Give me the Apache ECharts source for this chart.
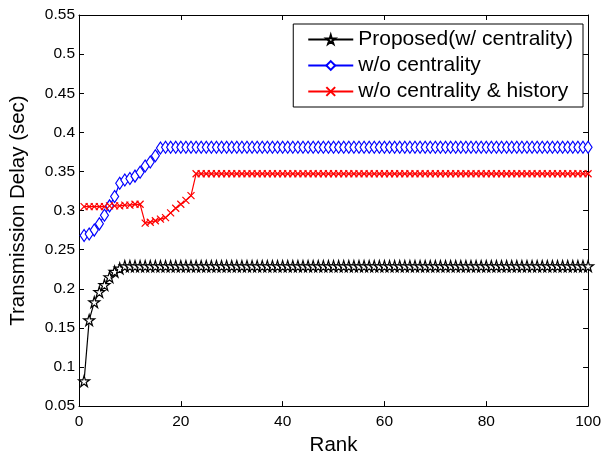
<!DOCTYPE html>
<html><head><meta charset="utf-8">
<script src="https://cdn.jsdelivr.net/npm/echarts@6/dist/echarts.min.js"></script>
<style>html,body{margin:0;padding:0;background:#fff}#c{width:604px;height:461px}</style>
</head><body><div id="c"></div>
<script>
var seriesNames = ['Proposed(w/ centrality)', 'w/o centrality', 'w/o centrality & history'];
var xTicks = [0, 20, 40, 60, 80, 100];
var yTicks = [0.05, 0.1, 0.15, 0.2, 0.25, 0.3, 0.35, 0.4, 0.45, 0.5, 0.55];
var proposed = [
0.082,0.160,0.183,0.196,0.205,0.215,0.222,0.226,0.229,0.229,
0.229,0.229,0.229,0.229,0.229,0.229,0.229,0.229,0.229,0.229,
0.229,0.229,0.229,0.229,0.229,0.229,0.229,0.229,0.229,0.229,
0.229,0.229,0.229,0.229,0.229,0.229,0.229,0.229,0.229,0.229,
0.229,0.229,0.229,0.229,0.229,0.229,0.229,0.229,0.229,0.229,
0.229,0.229,0.229,0.229,0.229,0.229,0.229,0.229,0.229,0.229,
0.229,0.229,0.229,0.229,0.229,0.229,0.229,0.229,0.229,0.229,
0.229,0.229,0.229,0.229,0.229,0.229,0.229,0.229,0.229,0.229,
0.229,0.229,0.229,0.229,0.229,0.229,0.229,0.229,0.229,0.229,
0.229,0.229,0.229,0.229,0.229,0.229,0.229,0.229,0.229,0.229];
var woCentrality = [
0.268,0.270,0.275,0.283,0.294,0.306,0.318,0.335,0.339,0.341,
0.344,0.349,0.357,0.362,0.370,0.380,0.381,0.381,0.381,0.381,
0.381,0.381,0.381,0.381,0.381,0.381,0.381,0.381,0.381,0.381,
0.381,0.381,0.381,0.381,0.381,0.381,0.381,0.381,0.381,0.381,
0.381,0.381,0.381,0.381,0.381,0.381,0.381,0.381,0.381,0.381,
0.381,0.381,0.381,0.381,0.381,0.381,0.381,0.381,0.381,0.381,
0.381,0.381,0.381,0.381,0.381,0.381,0.381,0.381,0.381,0.381,
0.381,0.381,0.381,0.381,0.381,0.381,0.381,0.381,0.381,0.381,
0.381,0.381,0.381,0.381,0.381,0.381,0.381,0.381,0.381,0.381,
0.381,0.381,0.381,0.381,0.381,0.381,0.381,0.381,0.381,0.381];
var woCentralityHistory = [
0.305,0.305,0.305,0.305,0.305,0.306,0.306,0.306,0.307,0.307,
0.308,0.308,0.284,0.285,0.287,0.289,0.291,0.297,0.303,0.308,
0.313,0.319,0.347,0.347,0.347,0.347,0.347,0.347,0.347,0.347,
0.347,0.347,0.347,0.347,0.347,0.347,0.347,0.347,0.347,0.347,
0.347,0.347,0.347,0.347,0.347,0.347,0.347,0.347,0.347,0.347,
0.347,0.347,0.347,0.347,0.347,0.347,0.347,0.347,0.347,0.347,
0.347,0.347,0.347,0.347,0.347,0.347,0.347,0.347,0.347,0.347,
0.347,0.347,0.347,0.347,0.347,0.347,0.347,0.347,0.347,0.347,
0.347,0.347,0.347,0.347,0.347,0.347,0.347,0.347,0.347,0.347,
0.347,0.347,0.347,0.347,0.347,0.347,0.347,0.347,0.347,0.347];

function pairs(arr){ return arr.map(function(v,i){ return [i+1, v]; }); }

var STAR = 'path://M50,0 L61,35 L98,35 L68,57 L79,91 L50,70 L21,91 L32,57 L2,35 L39,35 Z';
var CROSS = 'path://M0,0 L10,10 M10,0 L0,10';
var FONT = 'Liberation Sans';

var chart = echarts.init(document.getElementById('c'), null, {renderer:'canvas'});
function axisBase(show, margin){
  return {
    axisLine:{show:true, onZero:false, lineStyle:{color:'#000', width:1}},
    axisTick:{show:true, inside:true, length:5, lineStyle:{color:'#000'}},
    splitLine:{show:false},
    axisLabel:{show:show, margin:margin, color:'#000', fontFamily:FONT, fontSize:15.5}
  };
}
var xb = axisBase(true, 8), xt = axisBase(false, 8), yl = axisBase(true, 4), yr = axisBase(false, 8);
var option = {
  animation:false,
  backgroundColor:'#fff',
  grid:{left:71, right:13, top:15, bottom:49, containLabel:false},
  legend:{
    orient:'vertical', right:21, top:24,
    backgroundColor:'#fff', borderColor:'#000', borderWidth:1,
    padding:[5,10,5,14], itemGap:5, itemWidth:45, itemHeight:11,
    textStyle:{color:'#000', fontFamily:FONT, fontSize:21},
    data:seriesNames
  },
  xAxis:[
    Object.assign({type:'value', position:'bottom', min:xTicks[0], max:xTicks[xTicks.length-1], interval:20,
      name:'Rank', nameLocation:'middle', nameGap:28,
      nameTextStyle:{color:'#000', fontFamily:FONT, fontSize:20.5}}, xb),
    Object.assign({type:'value', position:'top', min:xTicks[0], max:xTicks[xTicks.length-1], interval:20}, xt)
  ],
  yAxis:[
    Object.assign({type:'value', position:'left', min:yTicks[0], max:yTicks[yTicks.length-1], interval:0.05,
      name:'Transmission Delay (sec)', nameLocation:'middle', nameGap:50,
      nameTextStyle:{color:'#000', fontFamily:FONT, fontSize:20.5}}, yl),
    Object.assign({type:'value', position:'right', min:yTicks[0], max:yTicks[yTicks.length-1], interval:0.05}, yr)
  ],
  series:[
    {name:seriesNames[0], type:'line', data:pairs(proposed), xAxisIndex:0, yAxisIndex:0,
     symbol:STAR, symbolSize:11, showAllSymbol:true,
     lineStyle:{color:'#000', width:1.2},
     itemStyle:{color:'#fff', borderColor:'#000', borderWidth:1.2}},
    {name:seriesNames[1], type:'line', data:pairs(woCentrality), xAxisIndex:0, yAxisIndex:0,
     symbol:'diamond', symbolSize:[8,12], showAllSymbol:true,
     lineStyle:{color:'#0000ff', width:1.2},
     itemStyle:{color:'#fff', borderColor:'#0000ff', borderWidth:1.2}},
    {name:seriesNames[2], type:'line', data:pairs(woCentralityHistory), xAxisIndex:0, yAxisIndex:0,
     symbol:CROSS, symbolSize:7, showAllSymbol:true,
     lineStyle:{color:'#ff0000', width:1.2},
     itemStyle:{color:'#fff', borderColor:'#ff0000', borderWidth:1.2}}
  ]
};
chart.setOption(option);
</script>
</body></html>
